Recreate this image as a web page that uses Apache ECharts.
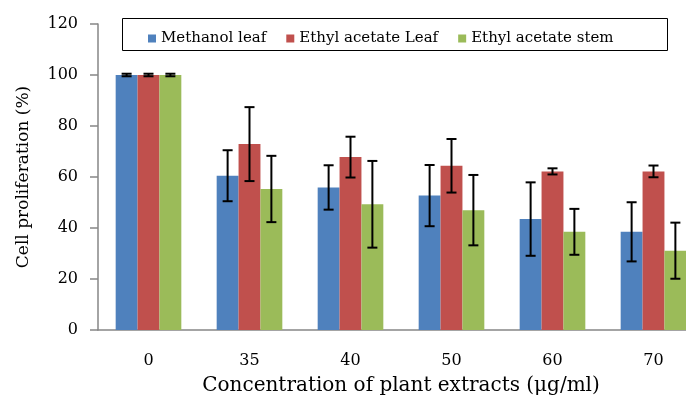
<!DOCTYPE html>
<html>
<head>
<meta charset="utf-8">
<script src="https://cdn.jsdelivr.net/npm/echarts@6/dist/echarts.min.js"></script>
<style>html,body{margin:0;padding:0;background:#fff;overflow:hidden;width:686px;height:401px;}#c{width:710px;height:401px;}</style>
</head>
<body>
<div id="c"></div>
<script>
const categories = ['0', '35', '40', '50', '60', '70'];
const seriesNames = ['Methanol leaf', 'Ethyl acetate Leaf', 'Ethyl acetate stem'];
const methanolLeaf = [100, 60.5, 55.9, 52.7, 43.5, 38.5];
const methanolLeafErr = [0.5, 10, 8.7, 12, 14.4, 11.6];
const ethylLeaf = [100, 72.9, 67.8, 64.4, 62.2, 62.2];
const ethylLeafErr = [0.5, 14.5, 8, 10.5, 1.2, 2.3];
const ethylStem = [100, 55.3, 49.3, 47, 38.5, 31.1];
const ethylStemErr = [0.5, 13, 17, 13.8, 9, 11];
const yTicks = [0, 20, 40, 60, 80, 100, 120];

const colors = ['#4F81BD', '#C0504D', '#9BBB59'];
const values = [methanolLeaf, ethylLeaf, ethylStem];
const errs = [methanolLeafErr, ethylLeafErr, ethylStemErr];
const GAP = 0.35;

const errData = [];
values.forEach((arr, s) => {
  arr.forEach((v, i) => {
    errData.push([i, s, v - errs[s][i], v + errs[s][i]]);
  });
});

const font = 'DejaVu Serif';
const chart = echarts.init(document.getElementById('c'));
chart.setOption({
  animation: false,
  color: colors,
  textStyle: { fontFamily: font },
  grid: { left: 98, top: 24, right: 6, bottom: 66, containLabel: false },
  graphic: [{
    type: 'rect', z: 0,
    shape: { x: 122.5, y: 18.5, width: 545, height: 32 },
    style: { fill: '#fff', stroke: '#000', lineWidth: 1 }
  }],
  legend: {
    data: seriesNames,
    left: 143, top: 26,
    itemWidth: 8, itemHeight: 8, itemGap: 20,
    icon: 'rect', z: 10,
    textStyle: { fontFamily: font, fontSize: 15, color: '#000' }
  },
  xAxis: {
    type: 'category',
    data: categories,
    name: 'Concentration of plant extracts (μg/ml)',
    nameLocation: 'middle', nameGap: 46,
    nameTextStyle: { fontFamily: font, fontSize: 20, color: '#000' },
    axisLine: { lineStyle: { color: '#868686', width: 1.5 } },
    axisTick: { show: false },
    axisLabel: { margin: 23, fontFamily: font, fontSize: 16, color: '#000' }
  },
  yAxis: {
    type: 'value', min: 0, max: 120, interval: 20,
    name: 'Cell proliferation (%)',
    nameLocation: 'middle', nameGap: 66, nameRotate: 90,
    nameTextStyle: { fontFamily: font, fontSize: 17, color: '#000' },
    axisLine: { show: true, lineStyle: { color: '#868686', width: 1.5 } },
    axisTick: { show: true, inside: false, length: 8, lineStyle: { color: '#868686', width: 1.5 } },
    splitLine: { show: false },
    axisLabel: { margin: 20, fontFamily: font, fontSize: 16, color: '#000',
      formatter: v => yTicks.includes(v) ? String(v) : '' }
  },
  series: [
    ...values.map((arr, s) => ({
      name: seriesNames[s], type: 'bar', data: arr,
      barGap: '0%', barCategoryGap: (GAP * 100) + '%',
      itemStyle: { color: colors[s] }
    })),
    {
      type: 'custom', name: 'err', z: 5,
      data: errData,
      encode: { x: 0, y: [2, 3] },
      renderItem: function (params, api) {
        const cat = api.value(0), s = api.value(1);
        const band = api.size([1, 0])[0];
        const bw = band * (1 - GAP) / 3;
        const cx = api.coord([cat, 0])[0] + (s - 1) * bw;
        const yl = api.coord([cat, api.value(2)])[1];
        const yh = api.coord([cat, api.value(3)])[1];
        const hw = 5;
        const st = { stroke: '#000', lineWidth: 2 };
        return {
          type: 'group',
          children: [
            { type: 'line', shape: { x1: cx, y1: yl, x2: cx, y2: yh }, style: st },
            { type: 'line', shape: { x1: cx - hw, y1: yh, x2: cx + hw, y2: yh }, style: st },
            { type: 'line', shape: { x1: cx - hw, y1: yl, x2: cx + hw, y2: yl }, style: st }
          ]
        };
      }
    }
  ]
});
</script>
</body>
</html>
